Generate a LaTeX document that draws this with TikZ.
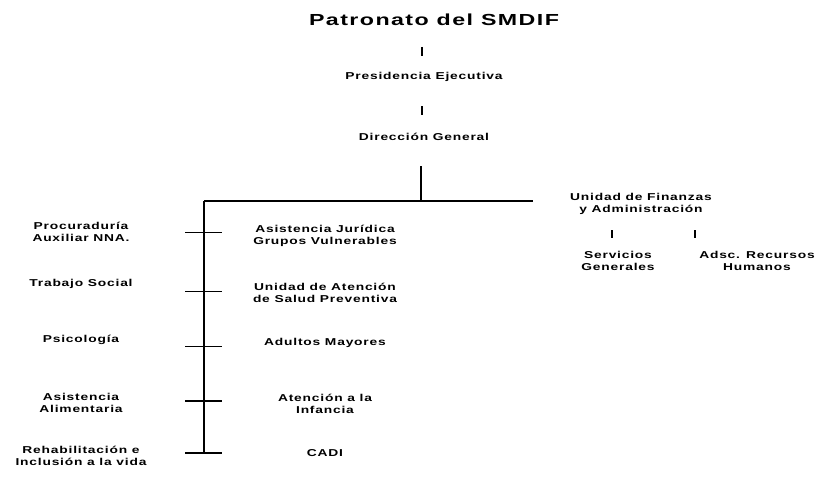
\documentclass[tikz,border=0pt]{standalone}
\usepackage{fontspec}
\newfontfamily\orgfont[FakeStretch=1.38,LetterSpace=8]{Liberation Sans Bold}
\newfontfamily\titlefont[FakeStretch=1.45,LetterSpace=9]{Liberation Sans Bold}
\begin{document}
\begin{tikzpicture}[x=1pt,y=-1pt,
  lbl/.style={align=center,inner sep=0pt,font=\orgfont\fontsize{10}{12.5}\selectfont},
  ln/.style={line width=1.2pt}]
  \useasboundingbox (0,0) rectangle (817,487);
  \node[inner sep=0pt,font=\titlefont\fontsize{16}{19}\selectfont] (patronato) at (434,20) {Patronato del SMDIF};
  \node[lbl] (presidencia) at (424,77) {Presidencia Ejecutiva};
  \node[lbl] (direccion) at (424,137) {Dirección General};
  \node[lbl] (finanzas) at (641,204) {Unidad de Finanzas\\y Administración};
  \node[lbl] (servicios) at (618,261) {Servicios\\Generales};
  \node[lbl] (recursos) at (757,261) {Adsc. Recursos\\Humanos};
  \foreach \n/\y/\t in {procuraduria/232/{Procuraduría\\Auxiliar NNA.},
      trabajo/284/{Trabajo Social}, psicologia/340/{Psicología},
      alimentaria/403/{Asistencia\\Alimentaria},
      rehabilitacion/456/{Rehabilitación e\\Inclusión a la vida}}
    \node[lbl] (\n) at (81,\y) {\t};
  \foreach \n/\y/\t in {juridica/236/{Asistencia Jurídica\\Grupos Vulnerables},
      salud/293/{Unidad de Atención\\de Salud Preventiva}, adultos/343/{Adultos Mayores},
      infancia/404/{Atención a la\\Infancia}, cadi/453/{CADI}}
    \node[lbl] (\n) at (325,\y) {\t};
  % ticks between the boxes
  \draw[ln] (422,47) -- (422,56);
  \draw[ln] (422,106) -- (422,115);
  \draw[ln] (612,230) -- (612,238);
  \draw[ln] (695,230) -- (695,238);
  % main lines
  \coordinate (stem) at (421,166);
  \coordinate (join) at (421,201);
  \coordinate (left) at (204,201);
  \coordinate (right) at (533,201);
  \coordinate (bottom) at (204,453);
  \draw[ln] (stem) -- (join);
  \draw[ln] (left) -- (right);
  \draw[ln] (left) -- (bottom);
  \foreach \y/\w in {232/0.8,291/0.8,346/0.8,401/1.2,453/1.2}
    \draw[line width=\w pt] (185,\y) -- (222,\y);
\end{tikzpicture}
\end{document}
